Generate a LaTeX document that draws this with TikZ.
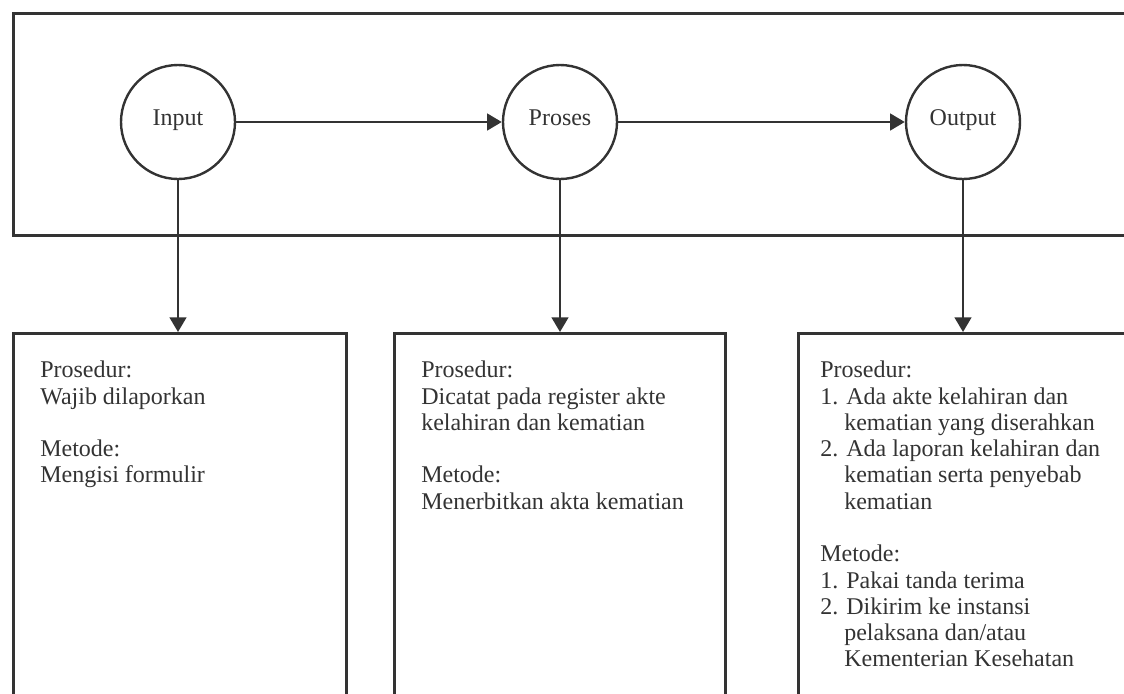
\documentclass[tikz,border=0pt]{standalone}
\usepackage{fontspec}
\setmainfont{Liberation Serif}
\usetikzlibrary{arrows.meta}
\definecolor{garis}{HTML}{333333}

\begin{document}
\begin{tikzpicture}[x=0.75pt,y=-0.75pt,
        font=\fontsize{18}{19.7}\selectfont,
        lingkaran/.style={circle,draw=garis,line width=1.8pt,minimum size=85.5pt,inner sep=0pt,
            text=garis,text height=0.75em,text depth=0.25em},
        kotak/.style={rectangle,draw=garis,line width=2pt,anchor=north west,inner sep=0pt},
        isi/.style={anchor=north west,align=left,inner sep=0pt,text=garis},
        panah/.style={-{Triangle[length=11pt,width=12.5pt]},line width=1.8pt,draw=garis}]
        \useasboundingbox (0,0) rectangle (1124,693);
        \clip (0,0) rectangle (1124,693);

        \node[kotak,minimum width=846pt,minimum height=166.5pt] (atas) at (12,12) {};
        \node[lingkaran] (input) at (178,122) {Input};
        \node[lingkaran] (proses) at (560,122) {Proses};
        \node[lingkaran] (output) at (963,122) {Output};

        \node[kotak,minimum width=249.75pt,minimum height=285pt] (kiri) at (12,332) {};
        \node[kotak,minimum width=248.25pt,minimum height=285pt] (tengah) at (393,332) {};
        \node[kotak,minimum width=262.5pt,minimum height=285pt] (kanan) at (797,332) {};

        \node[isi] (teksKiri) at (40,361) {Prosedur:\\Wajib dilaporkan\\[19.7pt]
            Metode:\\Mengisi formulir};
        \node[isi] (teksTengah) at (421,361) {Prosedur:\\Dicatat pada register akte\\
            kelahiran dan kematian\\[19.7pt]Metode:\\Menerbitkan akta kematian};
        \node[isi] (teksKanan) at (820,361) {Prosedur:\\
            1. Ada akte kelahiran dan\\\hspace*{1em}kematian yang diserahkan\\
            2. Ada laporan kelahiran dan\\\hspace*{1em}kematian serta penyebab\\
            \hspace*{1em}kematian\\[19.7pt]
            Metode:\\1. Pakai tanda terima\\2. Dikirim ke instansi\\
            \hspace*{1em}pelaksana dan/atau\\\hspace*{1em}Kementerian Kesehatan};

        \draw[panah] (input) -- (proses);
        \draw[panah] (proses) -- (output);
        \draw[panah] (input.south) -- (input.south |- kiri.north);
        \draw[panah] (proses.south) -- (proses.south |- tengah.north);
        \draw[panah] (output.south) -- (output.south |- kanan.north);
\end{tikzpicture}
\end{document}
